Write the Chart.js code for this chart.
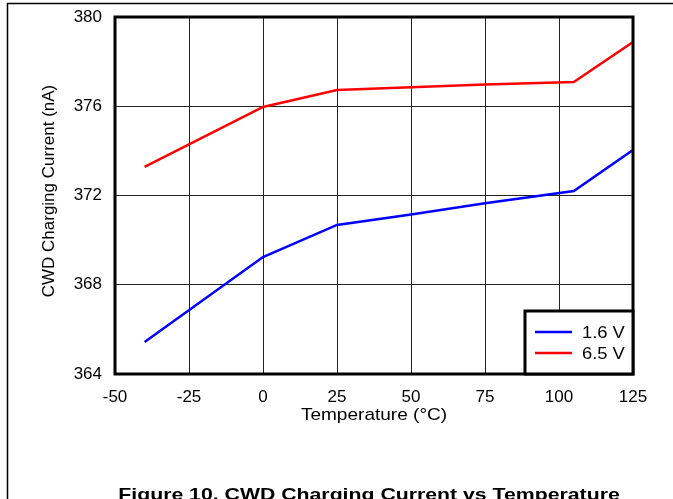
<!DOCTYPE html>
<html>
<head>
<meta charset="utf-8">
<script src="https://cdn.jsdelivr.net/npm/chart.js@4.4.1/dist/chart.umd.min.js"></script>
<style>
  html, body { margin: 0; padding: 0; background: #fff; }
  #wrap { width: 673px; height: 499px; }
</style>
</head>
<body>
<div id="wrap"><canvas id="myChart" width="673" height="499"></canvas></div>
<script>
// Datos
var temps = [-40, 0, 25, 50, 75, 105, 125];
var serie16 = [365.43, 369.24, 370.68, 371.15, 371.65, 372.2, 374.04];
var serie65 = [373.28, 375.97, 376.73, 376.85, 376.97, 377.09, 378.88];
var xTicks = [-50, -25, 0, 25, 50, 75, 100, 125];
var yTicks = [364, 368, 372, 376, 380];

var FONT = "Arial, 'Liberation Sans', sans-serif";

function pts(vals) {
  return temps.map(function (t, i) { return { x: t, y: vals[i] }; });
}

// texto con un poco de estiramiento horizontal, como en la figura
function wideText(c, txt, x, y, sx) {
  c.save();
  c.translate(x, y);
  c.scale(sx, 1);
  c.fillText(txt, 0, 0);
  c.restore();
}

// Marco, borde del area, leyenda y textos
var extras = {
  id: "extras",
  afterDraw: function (chart) {
    var c = chart.ctx, a = chart.chartArea;
    c.save();
    // marco de la pagina
    c.strokeStyle = "#000";
    c.lineWidth = 1.5;
    c.beginPath();
    c.moveTo(7.5, 499);
    c.lineTo(7.5, 3.5);
    c.lineTo(673, 3.5);
    c.stroke();

    // borde del area de trazado
    c.lineWidth = 3;
    c.strokeRect(a.left, a.top, a.right - a.left, a.bottom - a.top);

    // leyenda
    var lx = 525, ly = 311, lw = a.right - lx, lh = a.bottom - ly;
    c.fillStyle = "#fff";
    c.fillRect(lx, ly, lw, lh);
    c.lineWidth = 3;
    c.strokeRect(lx, ly, lw, lh);
    c.font = "17px " + FONT;
    c.textBaseline = "middle";
    c.textAlign = "left";
    chart.data.datasets.forEach(function (ds, i) {
      var yy = 332 + i * 21;
      c.strokeStyle = ds.borderColor;
      c.lineWidth = 2.5;
      c.beginPath();
      c.moveTo(535, yy);
      c.lineTo(572, yy);
      c.stroke();
      c.fillStyle = "#000";
      wideText(c, ds.label, 582, yy + 1, 1.08);
    });

    // titulos de ejes
    c.fillStyle = "#000";
    c.font = "17px " + FONT;
    c.textAlign = "center";
    wideText(c, "Temperature (\u00B0C)", (a.left + a.right) / 2, 415, 1.12);
    c.save();
    c.translate(49, 191);
    c.rotate(-Math.PI / 2);
    c.fillText("CWD Charging Current (nA)", 0, 0);
    c.restore();

    // pie de figura
    c.font = "bold 17px " + FONT;
    c.textBaseline = "alphabetic";
    wideText(c, "Figure 10. CWD Charging Current vs Temperature", 369, 500, 1.25);
    c.restore();
  }
};

var ctx = document.getElementById("myChart").getContext("2d");
var myChart = new Chart(ctx, {
  type: "line",
  data: {
    datasets: [
      { label: "1.6 V", data: pts(serie16), borderColor: "#0000ff", borderWidth: 2.5, pointRadius: 0, tension: 0 },
      { label: "6.5 V", data: pts(serie65), borderColor: "#ff0000", borderWidth: 2.5, pointRadius: 0, tension: 0 }
    ]
  },
  options: {
    responsive: false,
    animation: false,
    layout: { padding: { left: 0, right: 40, top: 17, bottom: 0 } },
    plugins: { legend: { display: false }, tooltip: { enabled: false } },
    scales: {
      x: {
        type: "linear",
        min: -50,
        max: 125,
        afterBuildTicks: function (s) { s.ticks = xTicks.map(function (v) { return { value: v }; }); },
        afterFit: function (s) { s.height = 125; s.paddingLeft = 0; s.paddingRight = 0; },
        grid: { color: "#222", lineWidth: 1, drawTicks: false },
        border: { display: false },
        ticks: { color: "#000", font: { family: FONT, size: 17 }, padding: 13, maxRotation: 0 }
      },
      y: {
        min: 364,
        max: 380,
        afterBuildTicks: function (s) { s.ticks = yTicks.map(function (v) { return { value: v }; }); },
        afterFit: function (s) { s.width = 115; s.paddingTop = 0; s.paddingBottom = 0; },
        grid: { color: "#222", lineWidth: 1, drawTicks: false },
        border: { display: false },
        ticks: { color: "#000", font: { family: FONT, size: 17 }, padding: 13 }
      }
    }
  },
  plugins: [extras]
});
</script>
</body>
</html>
